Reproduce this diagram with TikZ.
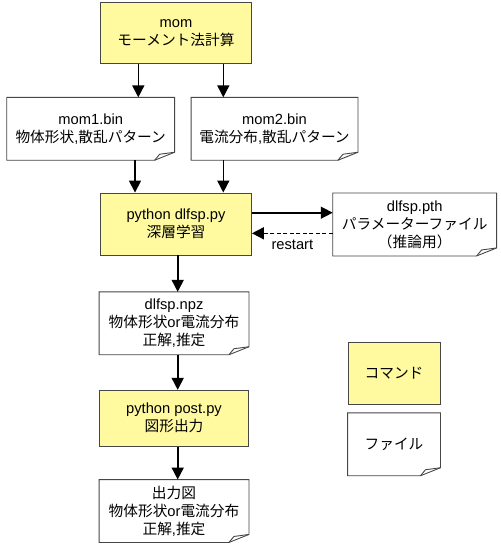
\documentclass[tikz,border=0pt]{standalone}
\usepackage{fontspec}
\setmainfont{Liberation Sans}
\newfontfamily\jpf{Noto Sans CJK JP}
\newcommand\jp[1]{{\jpf #1}}
\usetikzlibrary{arrows.meta}
\definecolor{cmdyel}{RGB}{255,250,160}
\definecolor{bord}{RGB}{70,70,70}
\begin{document}
\begin{tikzpicture}[x=1pt,y=-1pt,
 box/.style={rectangle, draw=bord, line width=0.9pt, align=center, inner sep=0pt, font=\fontsize{14.7}{18}\selectfont},
 cmdbox/.style={box, fill=cmdyel},
 filebox/.style={box, draw=none, fill=white},
 docline/.style={draw=bord, line width=0.9pt, line join=miter},
 arr/.style={-{Triangle[width=12pt,length=12pt]}, line width=1.6pt},
 darr/.style={arr, dash pattern=on 4pt off 2.5pt},
 lbl/.style={font=\fontsize{14.7}{18}\selectfont, inner sep=0pt},
]
\useasboundingbox (0,0) rectangle (500,545);
\fill[white] (0,0) rectangle (500,545);

\node[cmdbox, minimum width=151pt, minimum height=61pt] (mom) at (176,33) {mom\\\jp{モーメント法計算}};
\node[filebox, minimum width=167pt, minimum height=62pt] (mom1) at (90.7,128.8) {mom1.bin\\\jp{物体形状},\jp{散乱パターン}};
\node[filebox, minimum width=166pt, minimum height=62pt] (mom2) at (274.5,128.8) {mom2.bin\\\jp{電流分布},\jp{散乱パターン}};
\node[cmdbox, minimum width=151pt, minimum height=62pt] (dl) at (176,224) {python dlfsp.py\\\jp{深層学習}};
\node[filebox, minimum width=163pt, minimum height=62pt] (pth) at (414.7,224.5) {dlfsp.pth\\\jp{パラメーターファイル}\\\jp{（推論用）}};
\node[filebox, minimum width=149pt, minimum height=62pt] (npz) at (174,323.3) {dlfsp.npz\\\jp{物体形状}or\jp{電流分布}\\\jp{正解},\jp{推定}};
\node[cmdbox, minimum width=149pt, minimum height=56pt] (post) at (174,418.3) {python post.py\\\jp{図形出力}};
\node[filebox, minimum width=149pt, minimum height=62pt] (out) at (174,511) {\jp{出力図}\\\jp{物体形状}or\jp{電流分布}\\\jp{正解},\jp{推定}};
\node[cmdbox, minimum width=92pt, minimum height=62pt] (cmd) at (394,373) {\jp{コマンド}};
\node[filebox, minimum width=92pt, minimum height=62pt] (file) at (394,444.3) {\jp{ファイル}};

\foreach \n in {mom1,mom2,pth,npz,out,file}{
  \draw[docline] (\n.north west) -- (\n.north east) -- ([yshift=8pt]\n.south east)
     -- ([xshift=-20pt]\n.south east) -- (\n.south west) -- cycle;
  \draw[docline] ([xshift=-20pt]\n.south east) -- ([xshift=-15pt,yshift=6pt]\n.south east)
     -- ([yshift=8pt]\n.south east);
}

\coordinate (xa) at (138.3,0);
\coordinate (xb) at (223.3,0);
\coordinate (xc) at (135,0);
\coordinate (xd) at (177.7,0);
\coordinate (ya) at (0,212.7);
\coordinate (yb) at (0,233.3);

\draw[arr] (mom.south -| xa) -- (mom1.north -| xa);
\draw[arr] (mom.south -| xb) -- (mom2.north -| xb);
\draw[arr] (mom1.south -| xc) -- (dl.north -| xc);
\draw[arr] (mom2.south -| xb) -- (dl.north -| xb);
\draw[arr] (dl.south -| xd) -- (npz.north -| xd);
\draw[arr] (npz.south -| xd) -- (post.north -| xd);
\draw[arr] (post.south -| xd) -- (out.north -| xd);
\draw[arr] (dl.east |- ya) -- (pth.west |- ya);
\draw[darr] (pth.west |- yb) -- node[lbl, pos=0.5, yshift=-12pt] (rs) {restart} (dl.east |- yb);
\end{tikzpicture}
\end{document}
